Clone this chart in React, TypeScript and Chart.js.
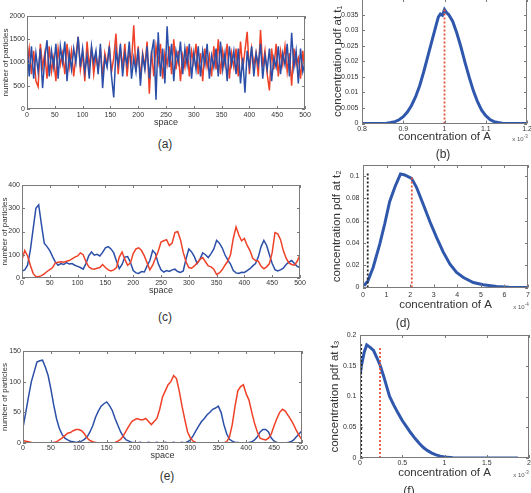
import React, { useEffect, useRef } from 'react';
import { Chart, registerables } from 'chart.js';
Chart.register(...registerables);

const FONT = '"Liberation Sans", Arial, Helvetica, sans-serif';
const BLUE = '#2b4fa8';
const RED = '#ef4128';
const PDF_BLUE = '#2f58ad';
const TXT = '#333333';

// ---------- panel (a): particle counts, sampled every 4 space units ----------
const stepA = 4;
const blueA = [1450,700,1350,650,1200,800,1300,450,1100,1480,
  700,1250,900,1400,650,1350,1000,1450,600,1200,
  850,1300,1000,1550,900,1300,800,1150,650,1350,
  1000,1250,750,1400,450,1100,900,1350,700,250,
  1250,950,1400,700,1200,950,1450,650,1100,800,
  1300,500,1150,850,1350,650,1200,1500,200,1650,
  700,1300,550,1780,900,1400,600,1250,1000,1450,
  750,1300,950,1400,650,1200,850,1350,700,1250,
  950,1400,650,1150,900,1300,700,1450,850,1200,
  600,1350,950,1250,750,1300,550,1100,350,1250,
  900,1350,700,1200,950,1400,650,1150,850,1300,
  600,1100,900,1350,750,1200,950,1400,700,1640,
  900,1250,550,1300,800,1000];
const redA = [900,1300,750,1250,600,480,1400,900,1200,650,
  1350,800,1100,600,1300,950,1200,750,1400,900,
  1250,700,1150,1550,850,1200,600,1450,900,1300,
  750,1150,850,1300,700,1200,950,1350,800,1100,
  1620,750,1300,900,1400,700,1250,1000,1800,800,
  1350,650,1200,900,1450,330,1250,700,1350,1000,
  1400,650,1200,950,1350,750,1500,850,1250,600,
  1150,900,1350,700,1250,1000,1400,750,1200,600,
  1300,900,1150,700,1350,850,1500,750,1250,950,
  1400,650,1200,900,1300,700,1450,850,1250,1660,
  750,1300,950,1200,700,1700,900,1250,750,400,
  1300,850,1400,700,1250,950,1350,800,1200,500,
  1300,950,1100,650,1250,800];

// ---------- panel (c): sampled every 5 space units ----------
const stepC = 5;
const blueC = [30,35,55,120,210,300,315,230,150,135,
  118,92,68,55,62,58,66,60,62,55,
  50,45,38,62,95,112,98,102,95,110,
  130,135,125,108,72,40,58,90,92,68,
  32,22,20,28,26,52,75,118,105,62,
  35,25,32,28,35,38,28,24,30,82,
  125,112,92,62,80,108,100,88,105,125,
  162,150,130,100,78,60,32,22,20,25,
  24,32,40,52,62,90,135,162,140,100,
  62,36,30,35,42,58,68,75,62,50,
  45];
const redC = [80,118,95,55,20,5,6,10,18,28,
  36,45,65,68,70,68,72,75,82,90,
  95,108,100,70,48,40,38,42,45,58,
  45,35,30,35,45,90,112,80,55,65,
  105,125,130,118,95,65,35,55,85,115,
  155,160,165,140,150,195,200,165,110,70,
  45,42,52,65,80,88,70,52,48,38,
  15,22,35,55,72,100,170,220,185,160,
  170,140,118,85,75,72,50,40,48,62,
  110,195,190,165,118,85,65,58,55,72,
  100];

// ---------- panel (e): sampled every 5 space units ----------
const stepE = 5;
const blueE = [25,50,76,100,116,132,134,135,124,110,
  88,62,40,24,14,8,5,3,2,1,
  2,3,6,10,18,28,42,52,60,64,
  67,61,53,40,29,18,10,5,3,1,
  1,0,1,0,0,1,0,0,1,0,
  0,1,0,0,1,0,0,1,0,2,
  5,12,20,28,35,40,46,50,55,57,
  60,50,30,15,6,3,1,1,0,0,
  0,1,2,5,10,18,22,22,18,8,
  3,1,0,0,0,1,2,5,10,15,
  20];
const redE = [4,3,2,1,0,0,0,0,0,0,
  0,1,2,5,8,12,16,17,20,22,
  22,20,15,8,4,2,1,0,0,0,
  0,0,0,1,3,6,12,20,28,35,
  38,40,38,38,40,35,30,35,40,55,
  75,85,95,100,110,105,85,60,38,18,
  8,3,1,0,0,0,0,0,0,0,
  0,0,0,2,10,30,60,85,92,95,
  80,70,50,32,18,8,6,5,8,15,
  28,40,50,55,52,45,38,30,20,12,
  5];

// ---------- pdf panels ----------
const xB = [0.8,0.82,0.84,0.86,0.87,0.88,0.89,0.9,0.91,0.92,0.93,0.94,0.95,0.96,0.97,0.98,0.985,0.99,0.995,1.0,1.005,1.01,1.02,1.03,1.04,1.05,1.06,1.07,1.08,1.09,1.1,1.11,1.12,1.13,1.14,1.16,1.18,1.2];
const yB = [0,0,0,0.0001,0.0003,0.0006,0.0012,0.0022,0.0037,0.0058,0.0086,0.0122,0.0168,0.0218,0.0268,0.0318,0.0342,0.0352,0.0348,0.0366,0.0356,0.035,0.0328,0.029,0.0245,0.0195,0.0148,0.0105,0.007,0.0043,0.0025,0.0013,0.0006,0.0003,0.0001,0,0,0];
const redLineB = { x: 1.0, top: 0.0368 };

const xD = [0.04,0.21,0.43,0.71,0.92,1.13,1.35,1.59,1.77,2.06,2.27,2.55,2.84,3.12,3.4,3.69,3.97,4.26,4.68,5.1,5.67,6.2,7];
const yD = [0.0015,0.006,0.018,0.039,0.057,0.077,0.09,0.102,0.101,0.098,0.09,0.075,0.059,0.045,0.032,0.021,0.0135,0.009,0.0045,0.0024,0.001,0.0003,0];
const blackLineD = { x: 0.2, top: 0.103 };
const redLineD = { x: 2.07, top: 0.1 };

const xF = [0,0.02,0.05,0.08,0.12,0.16,0.2,0.24,0.28,0.32,0.35,0.4,0.45,0.5,0.55,0.6,0.65,0.7,0.75,0.8,0.85,0.9,0.95,1.0,1.1,1.2,1.3,1.5,1.87];
const yF = [0.135,0.152,0.172,0.184,0.18,0.175,0.163,0.15,0.133,0.114,0.1,0.086,0.073,0.061,0.051,0.041,0.032,0.024,0.017,0.012,0.008,0.005,0.003,0.0015,0.0006,0.0002,0.0001,0,0];
const blackLineF = { x: 0.014, top: 0.185 };
const redLineF = { x: 0.237, top: 0.182 };

// ---------- tick values ----------
const spaceTicks = [0,50,100,150,200,250,300,350,400,450,500];
const yTicksA = [0,500,1000,1500,2000];
const yTicksC = [0,100,200,300,400];
const yTicksE = [0,50,100,150];
const xTicksB = [0.8,0.9,1.0,1.1,1.2];
const yTicksB = [0,0.005,0.01,0.015,0.02,0.025,0.03,0.035];
const xTicksD = [0,1,2,3,4,5,6,7];
const yTicksD = [0,0.02,0.04,0.06,0.08,0.1];
const xTicksF = [0,0.5,1,1.5,2];
const yTicksF = [0,0.05,0.1,0.15,0.2];

const stepSeries = (vals: number[], step: number) => vals.map((v, i) => ({ x: i * step, y: v }));
const pairSeries = (xs: number[], ys: number[]) => xs.map((x, i) => ({ x, y: ys[i] }));
const vline = (l: { x: number; top: number }) => [{ x: l.x, y: 0 }, { x: l.x, y: l.top }];

const boxPlugin = {
  id: 'matlabBox',
  afterDraw(chart: any) {
    const { ctx, chartArea, scales } = chart;
    const { left, top, right, bottom } = chartArea;
    ctx.save();
    ctx.strokeStyle = '#7a7a7a';
    ctx.lineWidth = 1;
    ctx.strokeRect(Math.round(left) + 0.5, Math.round(top) + 0.5, Math.round(right - left) - 1, Math.round(bottom - top) - 1);
    const tl = 3;
    ctx.beginPath();
    scales.x.ticks.forEach((t: any) => {
      const px = Math.round(scales.x.getPixelForValue(t.value)) + 0.5;
      ctx.moveTo(px, bottom); ctx.lineTo(px, bottom - tl);
      ctx.moveTo(px, top); ctx.lineTo(px, top + tl);
    });
    scales.y.ticks.forEach((t: any) => {
      const py = Math.round(scales.y.getPixelForValue(t.value)) + 0.5;
      ctx.moveTo(left, py); ctx.lineTo(left + tl, py);
      ctx.moveTo(right, py); ctx.lineTo(right - tl, py);
    });
    ctx.stroke();
    ctx.restore();
  },
};

type Spec = {
  L: number; T: number; R: number; B: number;
  padL: number; padT: number; padR: number; padB: number;
  datasets: any[];
  xMin: number; xMax: number; xTicks: number[];
  yMin: number; yMax: number; yTicks: number[];
  xTitle: string; yTitle: string; xTitleSize: number; yTitleSize: number;
  xTickPad: number; yTickPad: number;
};

const fmt = (v: any) => String(Number(Number(v).toFixed(6)));

function Panel({ spec }: { spec: Spec }) {
  const ref = useRef<HTMLCanvasElement>(null);
  const left = spec.L - spec.padL;
  const top = spec.T - spec.padT;
  const width = Math.round(spec.R + spec.padR - left);
  const height = Math.round(spec.B + spec.padB - top);
  useEffect(() => {
    const chart = new Chart(ref.current as HTMLCanvasElement, {
      type: 'line',
      data: { datasets: spec.datasets },
      options: {
        animation: false,
        responsive: false,
        layout: { padding: { left: 0, top: spec.padT, right: spec.padR, bottom: 0 } },
        plugins: { legend: { display: false }, tooltip: { enabled: false } },
        elements: { point: { radius: 0 }, line: { tension: 0 } },
        scales: {
          x: {
            type: 'linear', min: spec.xMin, max: spec.xMax,
            afterBuildTicks: (s: any) => { s.ticks = spec.xTicks.map((v) => ({ value: v })); },
            afterFit: (s: any) => { s.height = spec.padB; },
            ticks: { padding: spec.xTickPad, font: { family: FONT, size: 7 }, color: TXT, maxRotation: 0, autoSkip: false, callback: fmt },
            grid: { display: false, drawTicks: false },
            border: { display: false },
            title: { display: true, text: spec.xTitle, font: { family: FONT, size: spec.xTitleSize }, color: TXT, padding: 0 },
          },
          y: {
            type: 'linear', min: spec.yMin, max: spec.yMax,
            afterBuildTicks: (s: any) => { s.ticks = spec.yTicks.map((v) => ({ value: v })); },
            afterFit: (s: any) => { s.width = spec.padL; },
            ticks: { padding: spec.yTickPad, font: { family: FONT, size: 7 }, color: TXT, autoSkip: false, callback: fmt },
            grid: { display: false, drawTicks: false },
            border: { display: false },
            title: { display: true, text: spec.yTitle, font: { family: FONT, size: spec.yTitleSize }, color: TXT, padding: 0 },
          },
        },
      } as any,
      plugins: [boxPlugin],
    });
    return () => chart.destroy();
  }, []);
  return (
    <div style={{ position: 'absolute', left, top, width, height }}>
      <canvas ref={ref} width={width} height={height} style={{ width, height, display: 'block' }} />
    </div>
  );
}

const noisy = (data: any[], color: string) => ({ data, borderColor: color, borderWidth: 1.5, pointRadius: 0, fill: false });
const pdfLine = (data: any[]) => ({ data, borderColor: PDF_BLUE, borderWidth: 3, pointRadius: 0, fill: false });
const dotted = (data: any[], color: string) => ({ data, borderColor: color, borderWidth: 1.8, borderDash: [2, 2], pointRadius: 0, fill: false });

const specA: Spec = {
  L: 27, T: 16, R: 305, B: 109, padL: 26, padT: 8, padR: 12, padB: 19,
  datasets: [noisy(stepSeries(blueA, stepA), BLUE), noisy(stepSeries(redA, stepA), RED)],
  xMin: 0, xMax: 500, xTicks: spaceTicks, yMin: 0, yMax: 2000, yTicks: yTicksA,
  xTitle: 'space', yTitle: 'number of particles', xTitleSize: 9, yTitleSize: 8, xTickPad: 1.5, yTickPad: 2,
};
const specB: Spec = {
  L: 362, T: -1, R: 527, B: 123, padL: 31, padT: 8, padR: 12, padB: 20.5,
  datasets: [dotted(vline(redLineB), '#e8503a'), pdfLine(pairSeries(xB, yB))],
  xMin: 0.8, xMax: 1.2, xTicks: xTicksB, yMin: 0, yMax: 0.04, yTicks: yTicksB,
  xTitle: 'concentration of A', yTitle: 'concentration pdf at t\u2081', xTitleSize: 11.5, yTitleSize: 11.5, xTickPad: 1, yTickPad: 3.5,
};
const specC: Spec = {
  L: 22, T: 185, R: 300, B: 278, padL: 22, padT: 8, padR: 12, padB: 18,
  datasets: [noisy(stepSeries(redC, stepC), RED), noisy(stepSeries(blueC, stepC), BLUE)],
  xMin: 0, xMax: 500, xTicks: spaceTicks, yMin: 0, yMax: 400, yTicks: yTicksC,
  xTitle: 'space', yTitle: 'number of particles', xTitleSize: 9, yTitleSize: 8, xTickPad: 0.5, yTickPad: 2,
};
const specD: Spec = {
  L: 363, T: 165, R: 528, B: 287.5, padL: 33, padT: 8, padR: 12, padB: 24.5,
  datasets: [dotted(vline(blackLineD), '#222222'), dotted(vline(redLineD), '#e8503a'), pdfLine(pairSeries(xD, yD))],
  xMin: 0, xMax: 7, xTicks: xTicksD, yMin: 0, yMax: 0.11, yTicks: yTicksD,
  xTitle: 'concentration of A', yTitle: 'concentration pdf at t\u2082', xTitleSize: 11.5, yTitleSize: 11.5, xTickPad: 3, yTickPad: 3.5,
};
const specE: Spec = {
  L: 23, T: 351, R: 302, B: 443, padL: 23, padT: 8, padR: 12, padB: 18,
  datasets: [noisy(stepSeries(redE, stepE), RED), noisy(stepSeries(blueE, stepE), BLUE)],
  xMin: 0, xMax: 500, xTicks: spaceTicks, yMin: 0, yMax: 150, yTicks: yTicksE,
  xTitle: 'space', yTitle: 'number of particles', xTitleSize: 9, yTitleSize: 8, xTickPad: 1, yTickPad: 2,
};
const specF: Spec = {
  L: 360, T: 335, R: 529, B: 458, padL: 32, padT: 8, padR: 12, padB: 22,
  datasets: [dotted(vline(blackLineF), '#222222'), dotted(vline(redLineF), '#e8503a'), pdfLine(pairSeries(xF, yF))],
  xMin: 0, xMax: 2, xTicks: xTicksF, yMin: 0, yMax: 0.2, yTicks: yTicksF,
  xTitle: 'concentration of A', yTitle: 'concentration pdf at t\u2083', xTitleSize: 11.5, yTitleSize: 11.5, xTickPad: 1, yTickPad: 3.5,
};

const letters = [
  { t: '(a)', x: 165, y: 144 },
  { t: '(b)', x: 443, y: 154 },
  { t: '(c)', x: 165, y: 317 },
  { t: '(d)', x: 403, y: 323 },
  { t: '(e)', x: 167, y: 476 },
  { t: '(f)', x: 409, y: 491 },
];
const exponents = [
  { e: '-3', x: 520, y: 138 },
  { e: '-4', x: 521, y: 305.5 },
  { e: '-3', x: 521, y: 474 },
];

export default function App() {
  return (
    <div style={{ position: 'absolute', left: 0, top: 0, width: 531, height: 493, overflow: 'hidden', background: '#fff', fontFamily: FONT }}>
      {[specA, specB, specC, specD, specE, specF].map((s, i) => <Panel key={i} spec={s} />)}
      {letters.map((l) => (
        <div key={l.t} style={{ position: 'absolute', left: l.x, top: l.y, transform: 'translate(-50%,-50%)', fontSize: 12, color: TXT, whiteSpace: 'nowrap', lineHeight: 1 }}>{l.t}</div>
      ))}
      {exponents.map((e, i) => (
        <div key={i} style={{ position: 'absolute', left: e.x, top: e.y, transform: 'translate(-50%,-50%)', fontSize: 6, color: '#555', whiteSpace: 'nowrap', lineHeight: 1 }}>
          x 10<span style={{ fontSize: 4.5, verticalAlign: 'super' }}>{e.e}</span>
        </div>
      ))}
    </div>
  );
}
